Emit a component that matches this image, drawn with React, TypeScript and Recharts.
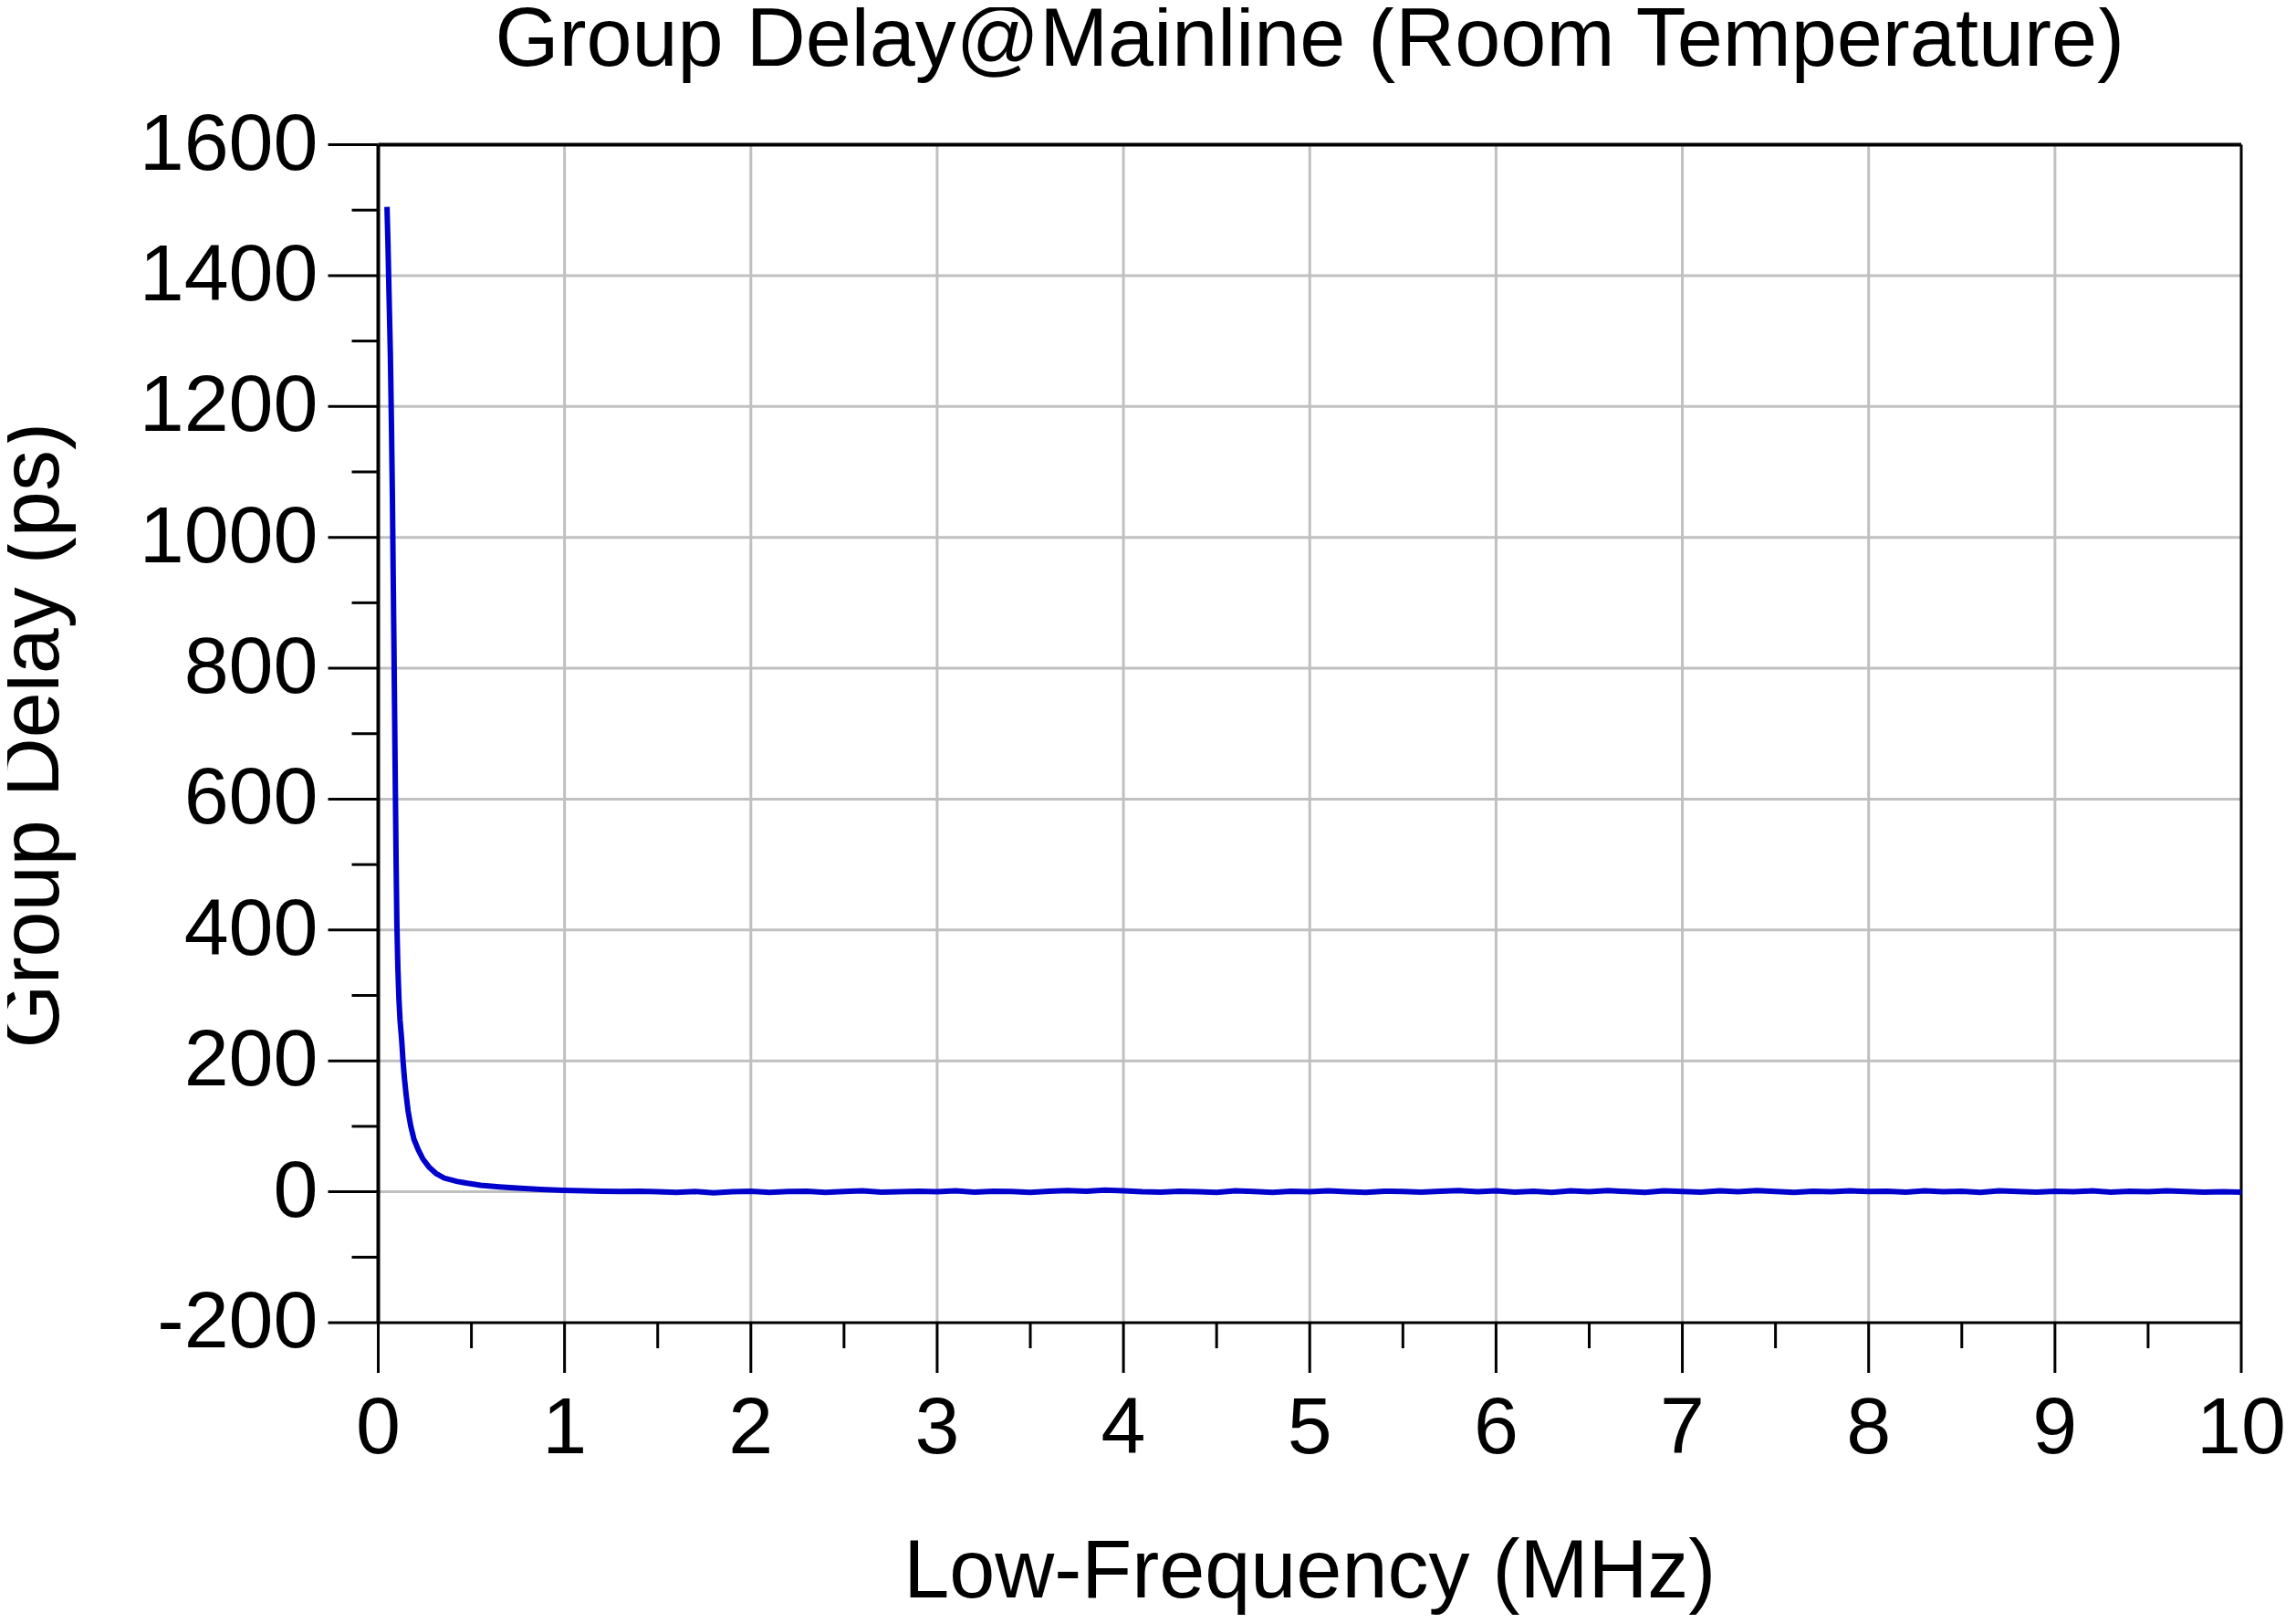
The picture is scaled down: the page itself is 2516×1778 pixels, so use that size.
import { LineChart, Line, XAxis, YAxis, CartesianGrid, ReferenceLine, Label } from 'recharts';

// frequency in MHz, group delay in ps
const freqMHz = [
  0.047, 0.052, 0.058, 0.065, 0.071, 0.076, 0.08, 0.084, 0.088, 0.092,
  0.096, 0.1, 0.105, 0.111, 0.117, 0.125, 0.133, 0.141, 0.149, 0.16,
  0.174, 0.192, 0.215, 0.24, 0.272, 0.31, 0.354, 0.42, 0.48, 0.55,
  0.65, 0.745, 0.87, 0.99,
  1.1, 1.2, 1.3, 1.4, 1.5, 1.6, 1.7, 1.8, 1.9, 2.0,
  2.1, 2.2, 2.3, 2.4, 2.5, 2.6, 2.7, 2.8, 2.9, 3.0,
  3.1, 3.2, 3.3, 3.4, 3.5, 3.6, 3.7, 3.8, 3.9, 4.0,
  4.1, 4.2, 4.3, 4.4, 4.5, 4.6, 4.7, 4.8, 4.9, 5.0,
  5.1, 5.2, 5.3, 5.4, 5.5, 5.6, 5.7, 5.8, 5.9, 6.0,
  6.1, 6.2, 6.3, 6.4, 6.5, 6.6, 6.7, 6.8, 6.9, 7.0,
  7.1, 7.2, 7.3, 7.4, 7.5, 7.6, 7.7, 7.8, 7.9, 8.0,
  8.1, 8.2, 8.3, 8.4, 8.5, 8.6, 8.7, 8.8, 8.9, 9.0,
  9.1, 9.2, 9.3, 9.4, 9.5, 9.6, 9.7, 9.8, 9.9, 10.0,
];

const delayPs = [
  1505, 1450, 1370, 1280, 1170, 1060, 950, 840, 725, 610,
  500, 410, 345, 295, 262, 235, 200, 172, 150, 124,
  101, 80, 64, 50, 38, 28, 21, 16, 13, 10,
  7.5, 5.6, 3.8, 2.4,
  1.5, 1, 0.5, 1, 0, -1, 0.5, -1.5, 0, 1,
  -1, 0.5, 1, -1, 0.5, 1.5, -0.5, 0, 1, 0,
  1.5, -0.5, 1, 0.5, -1, 1, 2, 1, 2.5, 1.5,
  0, -0.5, 1, 0, -1, 1.5, 0.5, -1, 1, 0,
  1.5, 0, -1, 1, 0.5, -0.5, 1, 2, 0, 1.5,
  -0.5, 1, -1, 1.5, 0, 2, 0.5, -1, 1.5, 0.5,
  -0.5, 1.5, 0, 2, 0.5, -1, 1, 0, 1.5, 0.5,
  1, -0.5, 1.5, 0, 1, -1, 1.5, 0.5, -0.5, 1,
  0, 1.5, -0.5, 1, 0, 1.5, 0.5, -0.5, 0, -0.5,
];

const xTicks = [0, 0.5, 1, 1.5, 2, 2.5, 3, 3.5, 4, 4.5, 5, 5.5, 6, 6.5, 7, 7.5, 8, 8.5, 9, 9.5, 10];
const yTicks = [-200, -100, 0, 100, 200, 300, 400, 500, 600, 700, 800, 900, 1000, 1100, 1200, 1300, 1400, 1500, 1600];
const xGrid = [1, 2, 3, 4, 5, 6, 7, 8, 9];
const yGrid = [0, 200, 400, 600, 800, 1000, 1200, 1400];

const data = freqMHz.map((f, i) => ({ f, delay: delayPs[i] }));

const FONT = '"Liberation Sans", Arial, sans-serif';

const XTick = (props: any) => {
  const { x, y, payload } = props;
  const major = Number.isInteger(payload.value);
  return (
    <g>
      <line x1={x} x2={x} y1={y} y2={y + (major ? 55 : 28)} stroke="#000" strokeWidth={3} />
      {major && (
        <text x={x} y={y + 143} textAnchor="middle" fontSize={88} fontFamily={FONT} fill="#000">
          {payload.value}
        </text>
      )}
    </g>
  );
};

const YTick = (props: any) => {
  const { x, y, payload } = props;
  const major = payload.value % 200 === 0;
  return (
    <g>
      <line x1={x - (major ? 55 : 29)} x2={x} y1={y} y2={y} stroke="#000" strokeWidth={3} />
      {major && (
        <text x={x - 66} y={y + 27} textAnchor="end" fontSize={88} fontFamily={FONT} fill="#000">
          {payload.value}
        </text>
      )}
    </g>
  );
};

export default function App() {
  return (
    <div style={{ position: 'relative', width: 2500, height: 1762 }}>
      <div
        style={{
          position: 'absolute',
          top: -2.5,
          left: 406.5,
          width: 2041.5,
          textAlign: 'center',
          fontFamily: FONT,
          fontSize: 90,
          lineHeight: '70px',
          color: '#000',
          whiteSpace: 'nowrap',
        }}
      >
        Group Delay@Mainline (Room Temperature)
      </div>
      <LineChart
        width={2500}
        height={1762}
        data={data}
        margin={{ top: 150.5, right: 52, bottom: 0, left: 0 }}
      >
        <CartesianGrid
          stroke="#c0c0c0"
          strokeWidth={3}
          horizontalValues={yGrid}
          verticalValues={xGrid}
        />
        <XAxis
          dataKey="f"
          type="number"
          domain={[0, 10]}
          ticks={xTicks}
          interval={0}
          height={321}
          tickSize={0}
          tickMargin={0}
          tickLine={false}
          tick={<XTick />}
          axisLine={{ stroke: '#000', strokeWidth: 3 }}
        >
          <Label
            content={(p: any) => {
              const vb = p.viewBox || { x: 406.5, y: 1441, width: 2041.5 };
              return (
                <text
                  x={vb.x + vb.width / 2}
                  y={vb.y + 301}
                  textAnchor="middle"
                  fontSize={90}
                  fontFamily={FONT}
                  fill="#000"
                >
                  Low-Frequency (MHz)
                </text>
              );
            }}
          />
        </XAxis>
        <YAxis
          type="number"
          domain={[-200, 1600]}
          ticks={yTicks}
          interval={0}
          width={406.5}
          tickSize={0}
          tickMargin={0}
          tickLine={false}
          tick={<YTick />}
          axisLine={{ stroke: '#000', strokeWidth: 4 }}
        >
          <Label
            content={(p: any) => {
              const vb = p.viewBox || { y: 150.5, height: 1290.5 };
              const cy = vb.y + vb.height / 2 + 2;
              return (
                <text
                  x={56}
                  y={cy}
                  transform={`rotate(-90, 56, ${cy})`}
                  textAnchor="middle"
                  fontSize={90}
                  fontFamily={FONT}
                  fill="#000"
                >
                  Group Delay (ps)
                </text>
              );
            }}
          />
        </YAxis>
        <ReferenceLine y={1600} stroke="#000" strokeWidth={4} />
        <ReferenceLine x={10} stroke="#000" strokeWidth={3} />
        <Line
          type="linear"
          dataKey="delay"
          stroke="#0000cc"
          strokeWidth={6}
          dot={false}
          isAnimationActive={false}
        />
      </LineChart>
    </div>
  );
}
